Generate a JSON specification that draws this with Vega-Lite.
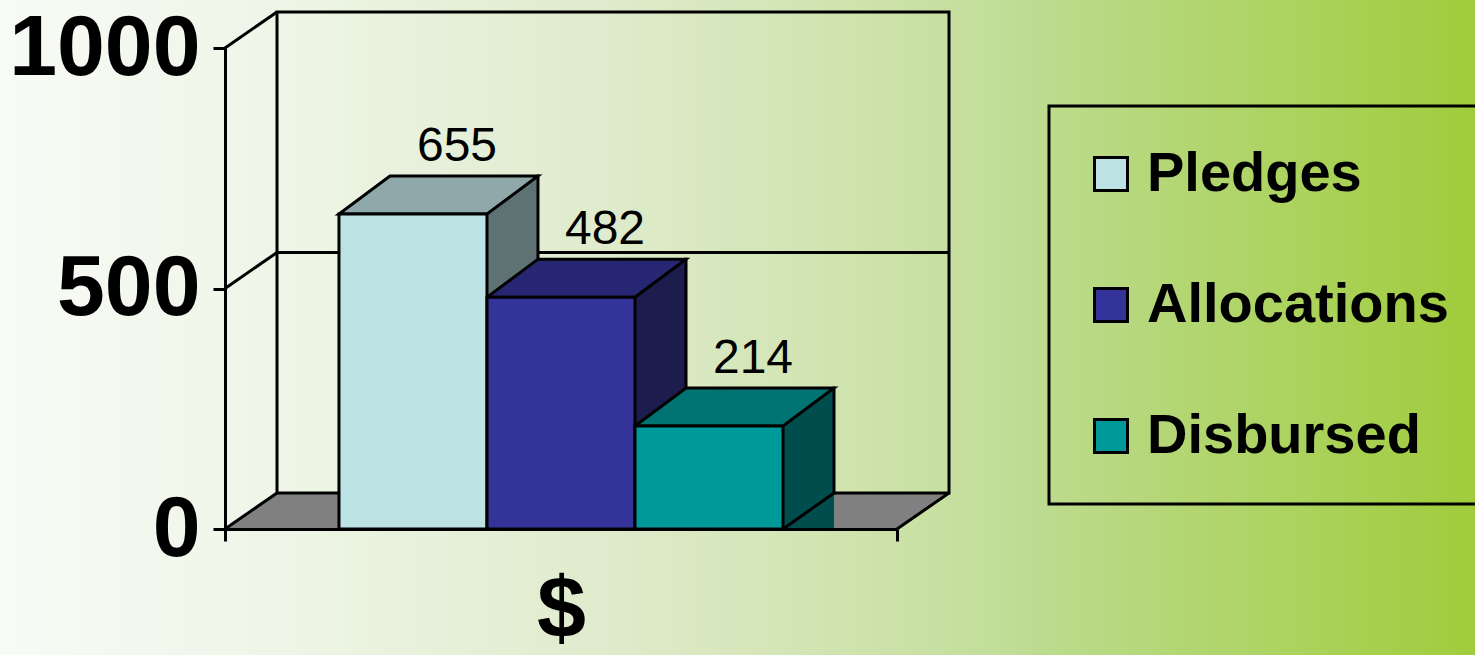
{
  "$schema": "https://vega.github.io/schema/vega-lite/v6.json",
  "width": 672,
  "height": 481,
  "autosize": {"type": "none"},
  "padding": {"left": 225, "top": 48, "right": 578, "bottom": 126},
  "background": "#ffffff",
  "config": {
    "font": "Liberation Sans",
    "view": {"stroke": null},
    "axis": {
      "grid": false,
      "domainColor": "black",
      "domainWidth": 3,
      "tickColor": "black",
      "tickWidth": 3,
      "tickSize": 12,
      "labelColor": "black",
      "labelFont": "Liberation Sans",
      "labelFontWeight": "bold",
      "labelFontSize": 86,
      "labelLimit": 1000,
      "zindex": 1
    },
    "legend": {"strokeWidth": 3, "zindex": 1}
  },
  "resolve": {"scale": {"x": "independent"}, "axis": {"x": "independent"}},
  "layer": [
    {
      "data": {"values": [{"cat": "$"}]},
      "layer": [
        {
          "mark": {
            "type": "rect",
            "fill": {
              "gradient": "linear",
              "x1": 0, "y1": 0, "x2": 1, "y2": 0,
              "stops": [
                {"offset": 0, "color": "#F8FBF6"},
                {"offset": 0.2, "color": "#EEF5E6"},
                {"offset": 0.41, "color": "#DFEBCC"},
                {"offset": 0.58, "color": "#CFE3AD"},
                {"offset": 0.68, "color": "#C2DD99"},
                {"offset": 0.71, "color": "#BCDB8D"},
                {"offset": 1, "color": "#A0CC3C"}
              ]
            },
            "strokeWidth": 0,
            "xOffset": -225,
            "x2Offset": 578,
            "yOffset": -48,
            "y2Offset": 126
          },
          "encoding": {
            "x": {
              "field": "cat", "type": "nominal", "bandPosition": 0,
              "scale": {"type": "band", "paddingInner": 0, "paddingOuter": 0},
              "axis": {"title": null, "labelAngle": 0, "labelPadding": 26, "labelFontSize": 88, "tickBand": "extent", "zindex": 1}
            },
            "x2": {"field": "cat", "bandPosition": 1},
            "y": {"datum": 1000, "type": "quantitative", "scale": {"domain": [0, 1000], "nice": false}},
            "y2": {"datum": 0}
          }
        },
        {
          "mark": {"type": "rect", "fill": "#808080", "strokeWidth": 0, "xOffset": 52, "x2Offset": 0, "yOffset": 0, "y2Offset": -36},
          "encoding": {
            "x": {"field": "cat", "type": "nominal", "bandPosition": 0, "scale": {"type": "band", "paddingInner": 0, "paddingOuter": 0}},
            "x2": {"field": "cat", "bandPosition": 1},
            "y": {"datum": 0, "type": "quantitative"},
            "y2": {"datum": 0}
          }
        },
        {
          "mark": {"type": "point", "shape": "M0,0L53,0L53,-36L52,-36Z", "size": 4, "filled": true, "fill": "#808080", "strokeWidth": 0, "opacity": 1},
          "encoding": {
            "x": {"field": "cat", "type": "nominal", "bandPosition": 0, "scale": {"type": "band", "paddingInner": 0, "paddingOuter": 0}},
            "y": {"datum": 0, "type": "quantitative"}
          }
        },
        {
          "mark": {"type": "point", "shape": "M-1,0L0,0L52,-36L-1,-36Z", "size": 4, "filled": true, "fill": "#808080", "strokeWidth": 0, "opacity": 1},
          "encoding": {
            "x": {"field": "cat", "type": "nominal", "bandPosition": 1, "scale": {"type": "band", "paddingInner": 0, "paddingOuter": 0}},
            "y": {"datum": 0, "type": "quantitative"}
          }
        },
        {
          "mark": {"type": "rect", "fill": "white", "fillOpacity": 0, "stroke": "black", "strokeWidth": 3, "xOffset": 52, "x2Offset": 52, "yOffset": -36, "y2Offset": -36},
          "encoding": {
            "x": {"field": "cat", "type": "nominal", "bandPosition": 0, "scale": {"type": "band", "paddingInner": 0, "paddingOuter": 0}},
            "x2": {"field": "cat", "bandPosition": 1},
            "y": {"datum": 1000, "type": "quantitative"},
            "y2": {"datum": 0}
          }
        },
        {
          "mark": {"type": "rule", "color": "black", "strokeWidth": 3, "xOffset": 52, "x2Offset": 52, "yOffset": -36},
          "encoding": {
            "x": {"field": "cat", "type": "nominal", "bandPosition": 0, "scale": {"type": "band", "paddingInner": 0, "paddingOuter": 0}},
            "x2": {"field": "cat", "bandPosition": 1},
            "y": {"datum": 500, "type": "quantitative"}
          }
        },
        {
          "mark": {"type": "point", "shape": "M0,0L52,-36", "size": 4, "filled": false, "stroke": "black", "strokeWidth": 3, "opacity": 1},
          "encoding": {
            "x": {"field": "cat", "type": "nominal", "bandPosition": 0, "scale": {"type": "band", "paddingInner": 0, "paddingOuter": 0}},
            "y": {"datum": 0, "type": "quantitative"}
          }
        },
        {
          "mark": {"type": "point", "shape": "M0,0L52,-36", "size": 4, "filled": false, "stroke": "black", "strokeWidth": 3, "opacity": 1},
          "encoding": {
            "x": {"field": "cat", "type": "nominal", "bandPosition": 0, "scale": {"type": "band", "paddingInner": 0, "paddingOuter": 0}},
            "y": {"datum": 500, "type": "quantitative"}
          }
        },
        {
          "mark": {"type": "point", "shape": "M0,0L52,-36", "size": 4, "filled": false, "stroke": "black", "strokeWidth": 3, "opacity": 1},
          "encoding": {
            "x": {"field": "cat", "type": "nominal", "bandPosition": 0, "scale": {"type": "band", "paddingInner": 0, "paddingOuter": 0}},
            "y": {"datum": 1000, "type": "quantitative"}
          }
        },
        {
          "mark": {"type": "point", "shape": "M0,0L52,-36", "size": 4, "filled": false, "stroke": "black", "strokeWidth": 3, "opacity": 1},
          "encoding": {
            "x": {"field": "cat", "type": "nominal", "bandPosition": 1, "scale": {"type": "band", "paddingInner": 0, "paddingOuter": 0}},
            "y": {"datum": 0, "type": "quantitative"}
          }
        }
      ]
    },
    {
      "data": {
        "values": [
          {"series": "Pledges", "value": 655},
          {"series": "Allocations", "value": 482},
          {"series": "Disbursed", "value": 214}
        ]
      },
      "resolve": {"scale": {"color": "independent"}, "legend": {"color": "independent"}},
      "encoding": {
        "x": {
          "field": "series", "type": "nominal",
          "sort": ["Pledges", "Allocations", "Disbursed"],
          "scale": {"type": "band", "paddingInner": 0, "paddingOuter": 0.77},
          "axis": null
        }
      },
      "layer": [
        {
          "mark": {"type": "bar", "width": 51, "xOffset": 99.5, "yOffset": -38, "y2Offset": -36, "strokeWidth": 0},
          "encoding": {
            "y": {"field": "value", "type": "quantitative", "stack": null, "scale": {"domain": [0, 1000], "nice": false}},
            "color": {"field": "series", "type": "nominal", "scale": {"domain": ["Pledges", "Allocations", "Disbursed"], "range": ["#5E7173", "#1C1C4D", "#004D4D"]}, "legend": null}
          }
        },
        {
          "mark": {"type": "point", "shape": "M74,0L74,-37L125,-37L125,-36Z", "size": 4, "filled": true, "strokeWidth": 0, "opacity": 1},
          "encoding": {
            "y": {"datum": 0, "type": "quantitative"},
            "color": {"field": "series", "type": "nominal", "scale": {"domain": ["Pledges", "Allocations", "Disbursed"], "range": ["#5E7173", "#1C1C4D", "#004D4D"]}, "legend": null}
          }
        },
        {
          "mark": {"type": "rule", "color": "black", "strokeWidth": 3, "xOffset": 125, "yOffset": -38, "y2Offset": -36, "strokeCap": "square"},
          "encoding": {
            "y": {"field": "value", "type": "quantitative", "stack": null},
            "y2": {"datum": 0}
          }
        },
        {
          "mark": {"type": "point", "shape": "M74,0L125,-36", "size": 4, "filled": false, "stroke": "black", "strokeWidth": 3, "opacity": 1},
          "encoding": {
            "y": {"datum": 0, "type": "quantitative"}
          }
        },
        {
          "mark": {"type": "point", "shape": "M-74,0L74,0L125,-38L-23,-38Z", "size": 4, "filled": true, "stroke": "black", "strokeWidth": 3, "opacity": 1},
          "encoding": {
            "y": {"field": "value", "type": "quantitative", "stack": null},
            "color": {"field": "series", "type": "nominal", "scale": {"domain": ["Pledges", "Allocations", "Disbursed"], "range": ["#8FA9AB", "#262673", "#007373"]}, "legend": null}
          }
        },
        {
          "mark": {"type": "bar", "stroke": "black", "strokeWidth": 3},
          "encoding": {
            "y": {
              "field": "value", "type": "quantitative", "stack": null,
              "scale": {"domain": [0, 1000], "nice": false},
              "axis": {"values": [0, 500, 1000], "format": "d", "title": null, "labelPadding": 13, "labelFontSize": 86, "labelLimit": 1000, "zindex": 1}
            },
            "color": {
              "field": "series", "type": "nominal",
              "scale": {"domain": ["Pledges", "Allocations", "Disbursed"], "range": ["#BDE2E4", "#333399", "#009999"]},
              "legend": {
                "title": null,
                "orient": "none",
                "legendX": 824,
                "legendY": 58,
                "symbolType": "square",
                "symbolSize": 1089,
                "symbolStrokeColor": "black",
                "symbolStrokeWidth": 3,
                "symbolOffset": -6,
                "labelOffset": 8,
                "labelFont": "Liberation Sans",
                "labelFontWeight": "bold",
                "labelFontSize": 56,
                "labelColor": "black",
                "labelLimit": 800,
                "padding": 40,
                "rowPadding": 75,
                "strokeColor": "black",
                "fillColor": null,
                "zindex": 1
              }
            }
          }
        },
        {
          "mark": {"type": "text", "font": "Liberation Sans", "fontSize": 48, "dx": 44, "dy": -53, "baseline": "alphabetic", "align": "center", "color": "black"},
          "encoding": {
            "y": {"field": "value", "type": "quantitative", "stack": null},
            "text": {"field": "value", "type": "quantitative"}
          }
        }
      ]
    }
  ]
}
